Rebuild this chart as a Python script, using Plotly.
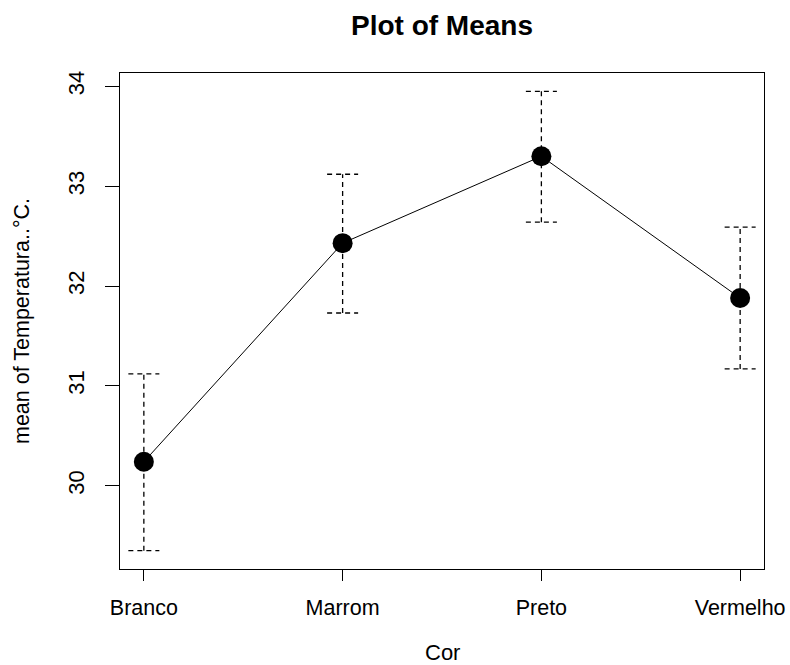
import plotly.graph_objects as go

categories = ["Branco", "Marrom", "Preto", "Vermelho"]
means = [30.24, 32.43, 33.30, 31.88]
upper = [31.12, 33.12, 33.95, 32.59]
lower = [29.35, 31.73, 32.64, 31.17]
y_ticks = [30, 31, 32, 33, 34]

xpos = list(range(1, len(categories) + 1))
cap = 0.078

fig = go.Figure()

# dashed error bars
ex, ey = [], []
for x, lo, hi in zip(xpos, lower, upper):
    ex += [x, x, None, x - cap, x + cap, None, x - cap, x + cap, None]
    ey += [lo, hi, None, hi, hi, None, lo, lo, None]
fig.add_trace(go.Scatter(x=ex, y=ey, mode="lines",
                         line=dict(color="black", width=1.3, dash="5px,4px"),
                         hoverinfo="skip", showlegend=False))

fig.add_trace(go.Scatter(x=xpos, y=means, mode="lines+markers",
                         line=dict(color="black", width=1),
                         marker=dict(color="black", size=20),
                         showlegend=False))

FONT = "Liberation Sans, Arial, sans-serif"
W, H = 790, 665

fig.update_layout(
    width=W, height=H,
    margin=dict(l=120, r=26, t=73, b=96),
    paper_bgcolor="white", plot_bgcolor="white",
    font=dict(family=FONT, color="black", size=22),
    title=dict(text="<b>Plot of Means</b>", x=0.5, xref="paper", xanchor="center",
               y=1 - 25 / H, yref="container", yanchor="middle",
               font=dict(size=28)),
    xaxis=dict(range=[0.88, 4.12], tickvals=xpos, ticktext=categories,
               showline=True, linecolor="black", linewidth=1, mirror=True,
               ticks="outside", ticklen=11, tickcolor="black", showgrid=False,
               zeroline=False, ticklabelstandoff=8, automargin=False,
               tickfont=dict(size=21.5)),
    yaxis=dict(range=[29.166, 34.134], tickvals=y_ticks,
               showline=True, linecolor="black", linewidth=1, mirror=True,
               ticks="outside", ticklen=14, tickcolor="black", showgrid=False,
               zeroline=False, tickangle=-90, ticklabelstandoff=12,
               automargin=False, tickfont=dict(size=22)),
    annotations=[
        dict(text="Cor", x=0.5, y=0, xref="paper", yref="paper",
             xanchor="center", yanchor="middle", yshift=-83, showarrow=False,
             font=dict(size=22)),
        dict(text="mean of Temperatura..°C.", x=0, y=0.5, xref="paper", yref="paper",
             xanchor="center", yanchor="middle", xshift=-98, textangle=-90,
             showarrow=False, font=dict(size=21.5)),
    ],
)

fig.write_html("out.html",
               config={"displayModeBar": False},
               post_script="document.body.style.margin='0';document.body.style.overflow='hidden';")
